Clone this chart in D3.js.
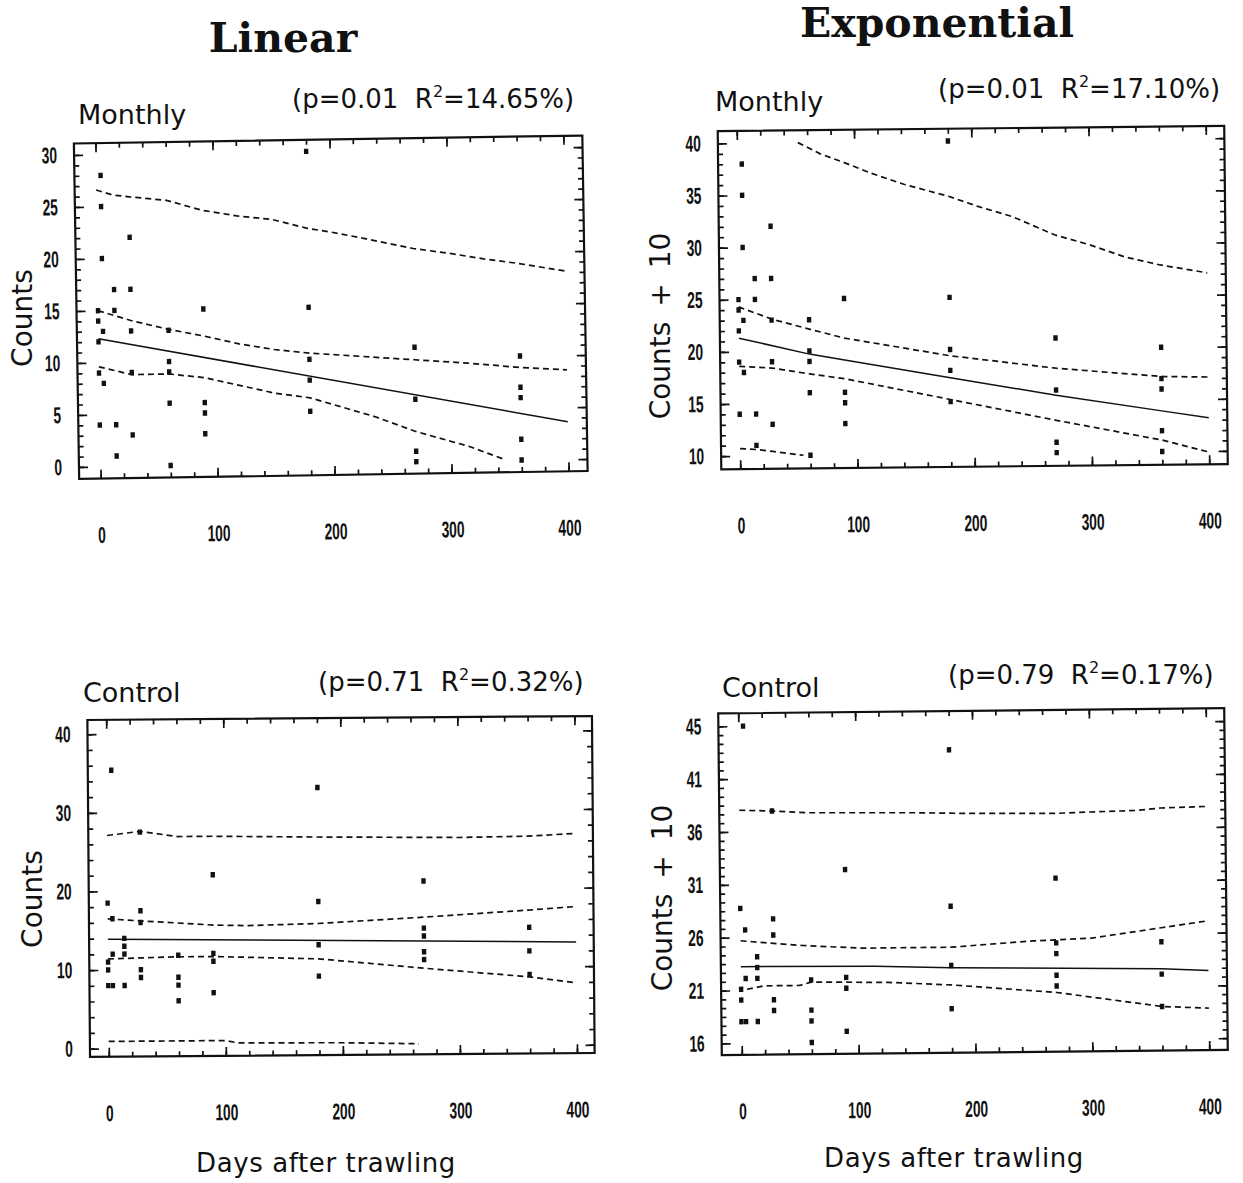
<!DOCTYPE html>
<html>
<head>
<meta charset="utf-8">
<script src="https://cdn.jsdelivr.net/npm/d3@7"></script>
<style>
  body { margin: 0; background: #fff; }
  svg { display: block; }
</style>
</head>
<body>
<svg id="chart" width="1243" height="1183"></svg>
<script>
// ---------------- DATA ----------------
const xTickValues = [0, 100, 200, 300, 400];
const xTickLabels = ["0", "100", "200", "300", "400"];

// Monthly (trawled) site: days after trawling and counts
const monthlyDays   = [0,0,0,0,0, 4,4,4,4,4, 14,14,14,14, 28,28,28,28,28, 60,60,60,60,60, 90,90,90,90, 180,180,180,180,180, 270,270,270,270, 360,360,360,360,360];
const monthlyCounts = [15,14,12,9,4, 28,25,20,13,8, 17,15,4,1, 22,17,13,9,3, 13,10,9,6,0, 15,6,5,3, 30,15,10,8,5, 11,6,1,0, 10,7,6,2,0];

// Control site
const controlDays   = [0,0,0,0, 4,4,4,4, 14,14,14,14, 28,28,28,28,28, 60,60,60,60, 90,90,90,90, 180,180,180,180, 270,270,270,270,270, 360,360,360];
const controlCounts = [18.5,11,10,8, 35.4,16.5,12,8, 14,13,12,8, 27.5,17.5,16,10,9, 11.8,9,8,6, 22,12,11,7, 33,18.5,13,9, 21,15,14,12,11, 15,12,9];

const expShift = 10; // exponential panels plot Counts + 10

// Fitted curves and confidence / prediction bands: [day, value]
const linMonthlyFit     = [[0,12.3],[400,3.6]];
const linMonthlyCiUp    = [[0,15.0],[28,14.0],[60,13.1],[90,12.4],[120,11.6],[150,11.0],[180,10.6],[270,9.8],[315,9.4],[360,8.9],[400,8.6]];
const linMonthlyCiLo    = [[0,9.6],[28,8.8],[60,8.8],[90,8.4],[120,7.6],[150,6.8],[180,6.3],[235,4.4],[270,2.9],[315,1.4],[345,0.1]];
const linMonthlyPiUp    = [[0,26.6],[14,26.1],[28,25.9],[60,25.5],[90,24.5],[120,23.9],[150,23.5],[180,22.6],[200,22.2],[230,21.5],[270,20.5],[300,20.0],[330,19.4],[360,18.9],[400,18.1]];

const expMonthlyFit     = [[0,21.3],[60,19.7],[90,19.1],[180,17.3],[270,15.5],[360,13.9],[400,13.2]];
const expMonthlyCiUp    = [[0,24.3],[28,23.1],[60,22.1],[90,21.2],[180,19.4],[270,18.1],[360,17.2],[400,17.1]];
const expMonthlyCiLo    = [[0,18.6],[28,18.4],[60,17.8],[90,17.3],[180,15.2],[270,13.1],[360,11.1],[400,9.9]];
const expMonthlyPiUp    = [[52,40.0],[71,38.9],[90,38.1],[114,37.0],[142,35.9],[180,34.7],[205,33.7],[234,32.7],[270,30.9],[300,29.9],[330,28.7],[360,27.9],[400,27.1]];
const expMonthlyPiLo    = [[0,10.7],[14,10.6],[28,10.4],[54,10.0]];

const linControlFit     = [[0,13.9],[400,13.1]];
const linControlCiUp    = [[0,16.5],[28,16.2],[60,15.9],[90,15.6],[120,15.5],[180,15.7],[270,16.4],[360,17.2],[400,17.6]];
const linControlCiLo    = [[0,11.4],[28,11.5],[60,11.6],[90,11.6],[180,11.2],[270,9.9],[360,8.7],[400,7.9]];
const linControlPiUp    = [[0,27.1],[28,27.6],[60,26.9],[90,26.9],[180,26.7],[300,26.5],[360,26.6],[400,26.9]];
const linControlPiLo    = [[0,0.9],[100,0.9],[110,0.6],[200,0.5],[265,0.3]];

const expControlFit     = [[0,23.1],[115,23.0],[180,22.8],[360,22.5],[400,22.3]];
const expControlCiUp    = [[0,25.5],[10,25.4],[53,25.0],[104,24.7],[180,24.7],[250,25.2],[300,25.4],[360,26.3],[400,26.9]];
const expControlCiLo    = [[5,21.0],[20,21.3],[50,21.3],[60,21.6],[126,21.5],[180,21.2],[270,20.4],[360,19.0],[400,18.8]];
const expControlPiUp    = [[0,37.6],[28,37.5],[60,37.3],[150,37.2],[190,37.1],[270,37.0],[300,37.1],[340,37.2],[360,37.4],[400,37.5]];

// Y axis ticks
const yTicksLinMonthly = [0,5,10,15,20,25,30];
const yTicksExpMonthly = [10,15,20,25,30,35,40];
const yTicksLinControl = [0,10,20,30,40];
const yTicksExpControl = [16,20.9,25.8,30.7,35.6,40.5,45.4];
const yLabelsExpControl = ["16","21","26","31","36","41","45"];

// Header texts
const columnTitles = ["Linear", "Exponential"];
const panelNames = ["Monthly", "Monthly", "Control", "Control"];
const pValues    = ["0.01", "0.01", "0.71", "0.79"];
const r2Values   = ["14.65", "17.10", "0.32", "0.17"];
const yTitles    = ["Counts", "Counts + 10", "Counts", "Counts + 10"];
const xTitle     = "Days after trawling";

// ---------------- LAYOUT ----------------
const panels = [
  { frame:{left:76.5,right:585,top:139.5,bottom:475}, xPx:[98,566], yDom:[0,30], yPx:[463,151], angle:-0.9,
    yTicks:yTicksLinMonthly, yLabels:yTicksLinMonthly.map(String), yMinor:d3.range(0,30.01,1),
    days:monthlyDays, vals:monthlyCounts, shift:0,
    solid:[linMonthlyFit], dashed:[linMonthlyCiUp, linMonthlyCiLo, linMonthlyPiUp] },
  { frame:{left:719.5,right:1226,top:128.5,bottom:466.7}, xPx:[738.5,1207.5], yDom:[10,40], yPx:[453.5,140.8], angle:-0.6,
    yTicks:yTicksExpMonthly, yLabels:yTicksExpMonthly.map(String), yMinor:d3.range(10,40.01,1),
    days:monthlyDays, vals:monthlyCounts, shift:expShift,
    solid:[expMonthlyFit], dashed:[expMonthlyCiUp, expMonthlyCiLo, expMonthlyPiUp, expMonthlyPiLo] },
  { frame:{left:88.7,right:593.3,top:718,bottom:1055}, xPx:[107.5,575.7], yDom:[0,40], yPx:[1046.7,732.3], angle:-0.45,
    yTicks:yTicksLinControl, yLabels:yTicksLinControl.map(String), yMinor:d3.range(0,40.01,2),
    days:controlDays, vals:controlCounts, shift:0,
    solid:[linControlFit], dashed:[linControlCiUp, linControlCiLo, linControlPiUp, linControlPiLo] },
  { frame:{left:720,right:1226,top:710.8,bottom:1052.5}, xPx:[740,1207.5], yDom:[16,45.4], yPx:[1040.8,723.7], angle:-0.6,
    yTicks:yTicksExpControl, yLabels:yLabelsExpControl, yMinor:d3.range(0,37).map(i => 16 + i*4.9/6),
    days:controlDays, vals:controlCounts, shift:expShift,
    solid:[expControlFit], dashed:[expControlCiUp, expControlCiLo, expControlPiUp] }
];

const INK = "#111";
const tickFont = "'Liberation Sans', Arial, sans-serif";
const textFont = "'DejaVu Sans', sans-serif";
const labelScale = 0.6;

const svg = d3.select("#chart");
svg.append("rect").attr("width", 1243).attr("height", 1183).attr("fill", "#fff");

function styleAxis(sel) {
  sel.select(".domain").remove();
  sel.attr("color", INK);
  sel.selectAll("line").attr("stroke", INK).attr("stroke-width", 1.7);
}

function drawPanel(p) {
  const f = p.frame;
  const cx = (f.left + f.right) / 2, cy = (f.top + f.bottom) / 2;
  const g = svg.append("g").attr("transform", `rotate(${p.angle},${cx},${cy})`);
  const x = d3.scaleLinear().domain([0, 400]).range(p.xPx);
  const y = d3.scaleLinear().domain(p.yDom).range(p.yPx);

  // minor x ticks (bottom & top)
  const xMinor = d3.range(0, 401, 20);
  g.append("g").attr("transform", `translate(0,${f.bottom})`)
    .call(d3.axisBottom(x).tickValues(xMinor).tickFormat("").tickSize(-5)).call(styleAxis);
  g.append("g").attr("transform", `translate(0,${f.top})`)
    .call(d3.axisTop(x).tickValues(xMinor).tickFormat("").tickSize(-5)).call(styleAxis);
  g.append("g").attr("transform", `translate(0,${f.top})`)
    .call(d3.axisTop(x).tickValues(xTickValues).tickFormat("").tickSize(-9)).call(styleAxis);
  // major bottom with labels
  const bot = g.append("g").attr("transform", `translate(0,${f.bottom})`)
    .call(d3.axisBottom(x).tickValues(xTickValues).tickFormat((d, i) => xTickLabels[i]).tickSize(-9).tickPadding(48))
    .call(styleAxis);
  bot.attr("font-family", tickFont).attr("font-size", 23).attr("font-weight", "bold");
  bot.selectAll("text").attr("fill", INK).attr("transform", `scale(${labelScale},1)`);

  // minor y ticks (left & right)
  g.append("g").attr("transform", `translate(${f.left},0)`)
    .call(d3.axisLeft(y).tickValues(p.yMinor).tickFormat("").tickSize(-5)).call(styleAxis);
  g.append("g").attr("transform", `translate(${f.right},0)`)
    .call(d3.axisRight(y).tickValues(p.yMinor).tickFormat("").tickSize(-5)).call(styleAxis);
  g.append("g").attr("transform", `translate(${f.right},0)`)
    .call(d3.axisRight(y).tickValues(p.yTicks).tickFormat("").tickSize(-9)).call(styleAxis);
  const left = g.append("g").attr("transform", `translate(${f.left},0)`)
    .call(d3.axisLeft(y).tickValues(p.yTicks).tickFormat((d, i) => p.yLabels[i]).tickSize(-9).tickPadding(0))
    .call(styleAxis);
  left.attr("font-family", tickFont).attr("font-size", 23).attr("font-weight", "bold");
  left.selectAll("text").attr("fill", INK).attr("x", null)
    .attr("transform", `translate(-17,0) scale(${labelScale},1)`);

  // frame
  g.append("rect").attr("x", f.left).attr("y", f.top)
    .attr("width", f.right - f.left).attr("height", f.bottom - f.top)
    .attr("fill", "none").attr("stroke", INK).attr("stroke-width", 2.2);

  const line = d3.line().x(d => x(d[0])).y(d => y(d[1] ));
  p.dashed.forEach(arr => {
    g.append("path").datum(arr).attr("d", line).attr("fill", "none")
      .attr("stroke", INK).attr("stroke-width", 1.7).attr("stroke-dasharray", "6,4");
  });
  p.solid.forEach(arr => {
    g.append("path").datum(arr).attr("d", line).attr("fill", "none")
      .attr("stroke", INK).attr("stroke-width", 1.5);
  });

  // points
  const pts = d3.zip(p.days, p.vals);
  g.append("g").selectAll("rect").data(pts).join("rect")
    .attr("x", d => x(d[0]) - 2.2).attr("y", d => y(d[1] + p.shift) - 2.7)
    .attr("width", 4.4).attr("height", 5.4).attr("fill", INK);
}

panels.forEach(drawPanel);

// ---------------- TEXT ----------------
const titlePos = [[283, 52], [937, 37]];
columnTitles.forEach((t, i) => {
  svg.append("text").attr("x", titlePos[i][0]).attr("y", titlePos[i][1])
    .attr("text-anchor", "middle").attr("font-family", "'DejaVu Serif', serif")
    .attr("font-weight", "bold").attr("font-size", 41).attr("fill", INK).text(t);
});

const namePos = [[78, 124], [715, 111], [83, 702], [722, 697]];
const statPos = [[292, 108], [938, 98], [318, 691], [948, 684]];
const yTitlePos = [[32, 318], [670, 326], [42, 899], [672, 898]];

panels.forEach((p, i) => {
  svg.append("text").attr("x", namePos[i][0]).attr("y", namePos[i][1])
    .attr("font-family", textFont).attr("font-size", 27).attr("fill", INK).text(panelNames[i]);

  const st = svg.append("text").attr("x", statPos[i][0]).attr("y", statPos[i][1])
    .attr("font-family", textFont).attr("font-size", 26).attr("fill", INK)
    .style("white-space", "pre");
  st.append("tspan").text(`(p=${pValues[i]}  R`);
  st.append("tspan").attr("dy", -11).attr("font-size", 16).text("2");
  st.append("tspan").attr("dy", 11).text(`=${r2Values[i]}%)`);

  svg.append("text")
    .attr("transform", `translate(${yTitlePos[i][0]},${yTitlePos[i][1]}) rotate(-90)`)
    .attr("text-anchor", "middle").attr("font-family", textFont).attr("font-size", 28)
    .attr("word-spacing", i % 2 ? 6 : 0)
    .attr("fill", INK).text(yTitles[i]);
});

const xTitlePos = [[326, 1172], [954, 1167]];
xTitlePos.forEach(pos => {
  svg.append("text").attr("x", pos[0]).attr("y", pos[1]).attr("text-anchor", "middle")
    .attr("font-family", textFont).attr("font-size", 26).attr("letter-spacing", 0.6)
    .attr("fill", INK).text(xTitle);
});
</script>
</body>
</html>
